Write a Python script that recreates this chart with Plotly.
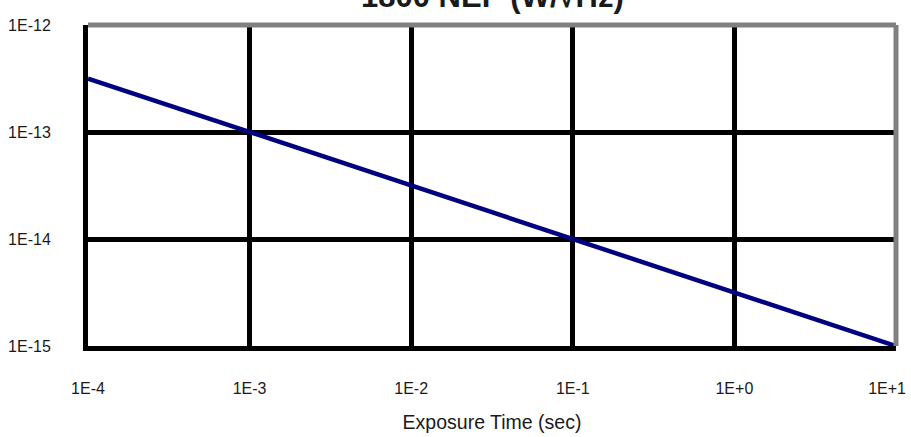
import plotly.graph_objects as go

exposure_time = [1e-4, 1e-3, 1e-2, 1e-1, 1e0, 1e1]
nep = [3.16e-13, 1.0e-13, 3.16e-14, 1.0e-14, 3.16e-15, 1.0e-15]

x_tickvals = [1e-4, 1e-3, 1e-2, 1e-1, 1e0, 1e1]
# trailing non-breaking spaces keep the last label inside the page edge
x_ticktext = ["1E-4", "1E-3", "1E-2", "1E-1", "1E+0", "1E+1\u00a0\u00a0\u00a0\u00a0"]
y_tickvals = [1e-15, 1e-14, 1e-13, 1e-12]
y_ticktext = ["1E-15", "1E-14", "1E-13", "1E-12"]

title_text = "1800 NEP (W/\u221aHz)"
x_title = "Exposure Time (sec)"

tick_font = dict(family="Liberation Sans, Arial", size=16, color="#1a1a1a")

fig = go.Figure()
fig.add_trace(go.Scatter(
    x=exposure_time, y=nep, mode="lines",
    line=dict(color="#000080", width=4.5),
    showlegend=False, hoverinfo="skip", cliponaxis=False,
))

fig.update_layout(
    width=911, height=437,
    margin=dict(l=88, r=15, t=25, b=91, autoexpand=False),
    paper_bgcolor="white", plot_bgcolor="white",
    xaxis=dict(
        type="log", range=[-4, 1.0002],
        tickvals=x_tickvals, ticktext=x_ticktext,
        showgrid=True, gridcolor="black", gridwidth=5,
        showline=True, linecolor="black", linewidth=5,
        zeroline=False, automargin=False,
        ticks="outside", ticklen=24, tickcolor="rgba(0,0,0,0)",
        tickfont=tick_font, ticklabeloverflow="allow",
        title=dict(text=x_title, font=dict(family="Liberation Sans, Arial", size=19.5, color="#1a1a1a"), standoff=21),
    ),
    yaxis=dict(
        type="log", range=[-15, -12],
        tickvals=y_tickvals, ticktext=y_ticktext,
        showgrid=True, gridcolor="black", gridwidth=5,
        showline=True, linecolor="black", linewidth=5,
        zeroline=False, automargin=False,
        ticks="outside", ticklen=29, tickcolor="rgba(0,0,0,0)",
        tickfont=tick_font, ticklabeloverflow="allow",
    ),
    shapes=[
        dict(type="line", xref="paper", yref="paper", x0=0, x1=1, y0=1, y1=1,
             line=dict(color="#808080", width=5), layer="above"),
        dict(type="line", xref="paper", yref="paper", x0=1, x1=1, y0=0, y1=1,
             line=dict(color="#808080", width=5), layer="above"),
    ],
    annotations=[
        dict(text="<b>" + title_text + "</b>", xref="paper", yref="paper",
             x=0.5, y=1, xanchor="center", yanchor="bottom", yshift=9,
             showarrow=False,
             font=dict(family="Liberation Sans, Arial", size=31, color="#1a1a1a")),
    ],
)

# remove the browser's default 8px body margin so the figure sits at the window origin
fig.write_html("out.html", config={"displayModeBar": False},
               post_script="document.body.style.margin='0px';")
